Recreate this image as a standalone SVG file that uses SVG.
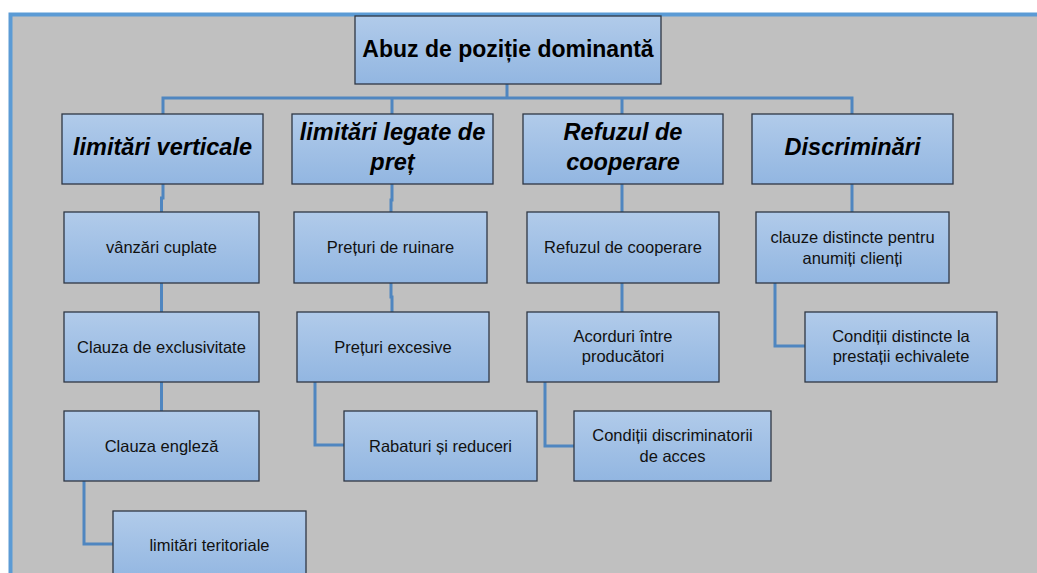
<svg xmlns="http://www.w3.org/2000/svg" width="1037" height="573" viewBox="0 0 1037 573">
<defs>
<linearGradient id="g" x1="0" y1="0" x2="0" y2="1">
<stop offset="0" stop-color="#b1cbea"/>
<stop offset="1" stop-color="#92b6e1"/>
</linearGradient>
<style>
.box{fill:url(#g);stroke:#2f3744;stroke-width:1.3}
.c{fill:none;stroke:#4f86c0;stroke-width:3}
.t0{font-family:"Liberation Sans",Arial,sans-serif;font-weight:bold;font-size:23px;fill:#000;text-anchor:middle}
.t1{font-family:"Liberation Sans",Arial,sans-serif;font-weight:bold;font-style:italic;font-size:23.5px;fill:#000;text-anchor:middle}
.t2{font-family:"Liberation Sans",Arial,sans-serif;font-size:16.5px;fill:#111;text-anchor:middle}
</style>
</defs>
<rect x="0" y="0" width="1037" height="573" fill="#ffffff"/>
<rect x="10.5" y="14.5" width="1040" height="580" fill="#c0c0c0" stroke="#5b9bd5" stroke-width="4"/>
<g id="connectors">
<path class="c" d="M507,84 V98 M163,114 V98 H852 V114 M392,98 V114 M622,98 V114"/>
<path class="c" d="M163,184 V198 H161.5 V212 M161.5,283 V312 M161.5,382 V411 M84,481 V544 H113"/>
<path class="c" d="M392,184 V200 H391 V212 M391,283 V297 H392 V312 M315,382 V445 H344"/>
<path class="c" d="M622,184 V212 M622,283 V312 M545,382 V446 H574"/>
<path class="c" d="M852,184 V212 M775,283 V346 H805"/>
</g>
<g id="root"><rect class="box" x="355" y="16" width="306" height="68"/><text class="t0" x="508" y="57">Abuz de poziție dominantă</text></g>
<g id="n1"><rect class="box" x="62" y="114" width="201" height="70"/><text class="t1" x="162.5" y="155">limitări verticale</text></g>
<g id="n2"><rect class="box" x="292" y="114" width="201" height="70"/><text class="t1" x="392.5" y="140">limitări legate de</text><text class="t1" x="392.5" y="170">preț</text></g>
<g id="n3"><rect class="box" x="523" y="114" width="200" height="70"/><text class="t1" x="623" y="140">Refuzul de</text><text class="t1" x="623" y="170">cooperare</text></g>
<g id="n4"><rect class="box" x="752" y="114" width="201" height="70"/><text class="t1" x="852.5" y="155">Discriminări</text></g>
<g id="n1a"><rect class="box" x="64" y="212" width="195" height="71"/><text class="t2" x="161.5" y="253">vânzări cuplate</text></g>
<g id="n1b"><rect class="box" x="64" y="312" width="195" height="70"/><text class="t2" x="161.5" y="353">Clauza de exclusivitate</text></g>
<g id="n1c"><rect class="box" x="64" y="411" width="195" height="70"/><text class="t2" x="161.5" y="452">Clauza engleză</text></g>
<g id="n1d"><rect class="box" x="113" y="511" width="193" height="70"/><text class="t2" x="209.5" y="551">limitări teritoriale</text></g>
<g id="n2a"><rect class="box" x="294" y="212" width="193" height="71"/><text class="t2" x="390.5" y="253">Prețuri de ruinare</text></g>
<g id="n2b"><rect class="box" x="297" y="312" width="192" height="70"/><text class="t2" x="393" y="353">Prețuri excesive</text></g>
<g id="n2c"><rect class="box" x="344" y="411" width="193" height="70"/><text class="t2" x="440.5" y="452">Rabaturi și reduceri</text></g>
<g id="n3a"><rect class="box" x="527" y="212" width="192" height="71"/><text class="t2" x="623" y="253">Refuzul de cooperare</text></g>
<g id="n3b"><rect class="box" x="527" y="312" width="192" height="70"/><text class="t2" x="623" y="342">Acorduri între</text><text class="t2" x="623" y="362">producători</text></g>
<g id="n3c"><rect class="box" x="574" y="411" width="197" height="70"/><text class="t2" x="672.5" y="441">Condiții discriminatorii</text><text class="t2" x="672.5" y="462">de acces</text></g>
<g id="n4a"><rect class="box" x="756" y="212" width="193" height="71"/><text class="t2" x="852.5" y="243">clauze distincte pentru</text><text class="t2" x="852.5" y="264">anumiți clienți</text></g>
<g id="n4b"><rect class="box" x="805" y="312" width="192" height="70"/><text class="t2" x="901" y="342">Condiții distincte la</text><text class="t2" x="901" y="362">prestații echivalete</text></g>
</svg>
